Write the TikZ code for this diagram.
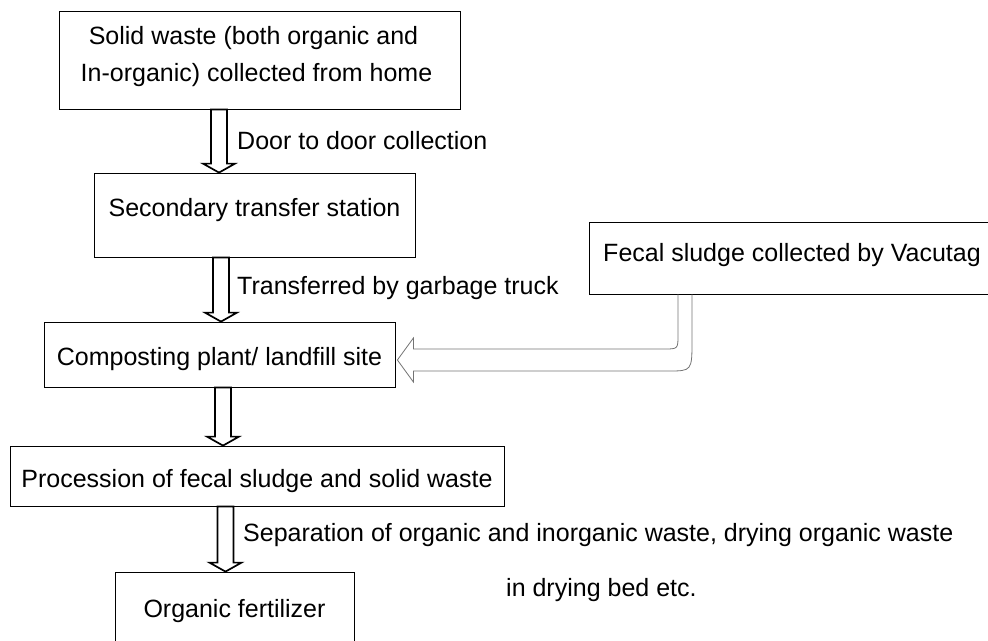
\documentclass[tikz,border=0pt]{standalone}
\usepackage{fontspec}
\setmainfont{Liberation Sans}
\usetikzlibrary{calc}

\tikzset{
  box/.style={draw, line width=0.8pt, inner sep=0pt, text height=18pt, text depth=0pt},
  note/.style={anchor=west, inner sep=0pt, text height=18pt, text depth=0pt},
  hollow/.style={draw, line width=1.7pt, fill=white, line join=miter},
  sludge/.style={draw=black!55, line width=0.8pt},
}
% block arrow going down from #1 to #2 along x = #3
\newcommand{\hollowdown}[3]{%
  \draw[hollow] let \p1=(#1.south), \p2=(#2.north) in
    (#3pt-8pt,\y1) -- (#3pt+8pt,\y1) -- (#3pt+8pt,\y2+9pt) -- (#3pt+16pt,\y2+9pt)
    -- (#3pt,\y2) -- (#3pt-16pt,\y2+9pt) -- (#3pt-8pt,\y2+9pt) -- cycle;}

\begin{document}
\begin{tikzpicture}[x=1pt, y=-1pt, every node/.style={font=\fontsize{25pt}{37pt}\selectfont}]
\useasboundingbox (0,0) rectangle (988,640);
\node[box, minimum width=401pt, minimum height=98pt, align=center, text height=42pt] (home) at (259.5,60)
  {Solid waste (both organic and\hspace*{12pt}\\In-organic) collected from home\hspace*{6pt}};
\node[box, minimum width=321pt, minimum height=84pt, text depth=16pt] (station) at (254.5,215) {Secondary transfer station};
\node[box, minimum width=406pt, minimum height=72pt, text depth=12pt] (fecal) at (792,258) {Fecal sludge collected by Vacutag};
\node[box, minimum width=351pt, minimum height=65pt, text height=21pt] (compost) at (219.5,354.5) {Composting plant/ landfill site};
\node[box, minimum width=494pt, minimum height=60pt, text height=22pt] (process) at (257,476) {Procession of fecal sludge and solid waste};
\node[box, minimum width=239pt, minimum height=72pt] (fert) at (234.5,608) {Organic fertilizer};

\node[note] (door) at (237,140) {Door to door collection};
\node[note] (truck) at (237,285) {Transferred by garbage truck};
\node[note] (separation) at (243,532) {Separation of organic and inorganic waste, drying organic waste};
\node[note] (bed) at (506,587) {in drying bed etc.};

\hollowdown{home}{station}{219}
\hollowdown{station}{compost}{221}
\hollowdown{compost}{process}{223}
\hollowdown{process}{fert}{225.5}

\coordinate (bend) at (685,360);
\draw[sludge] let \p1=(fecal.south -| bend), \p2=(compost.east |- bend) in
  (\x1-7pt,\y1) -- (\x1-7pt,\y2+25pt) .. controls (\x1-7pt,\y2+11pt) .. (\x1-21pt,\y2+11pt)
  -- (\x2+18pt,\y2+11pt) -- (\x2+18pt,\y2+22pt) -- (\x2+2pt,\y2) -- (\x2+18pt,\y2-22pt)
  -- (\x2+18pt,\y2-11pt) -- (\x1-17pt,\y2-11pt) .. controls (\x1+7pt,\y2-11pt) .. (\x1+7pt,\y2+20pt)
  -- (\x1+7pt,\y1);
\end{tikzpicture}
\end{document}
